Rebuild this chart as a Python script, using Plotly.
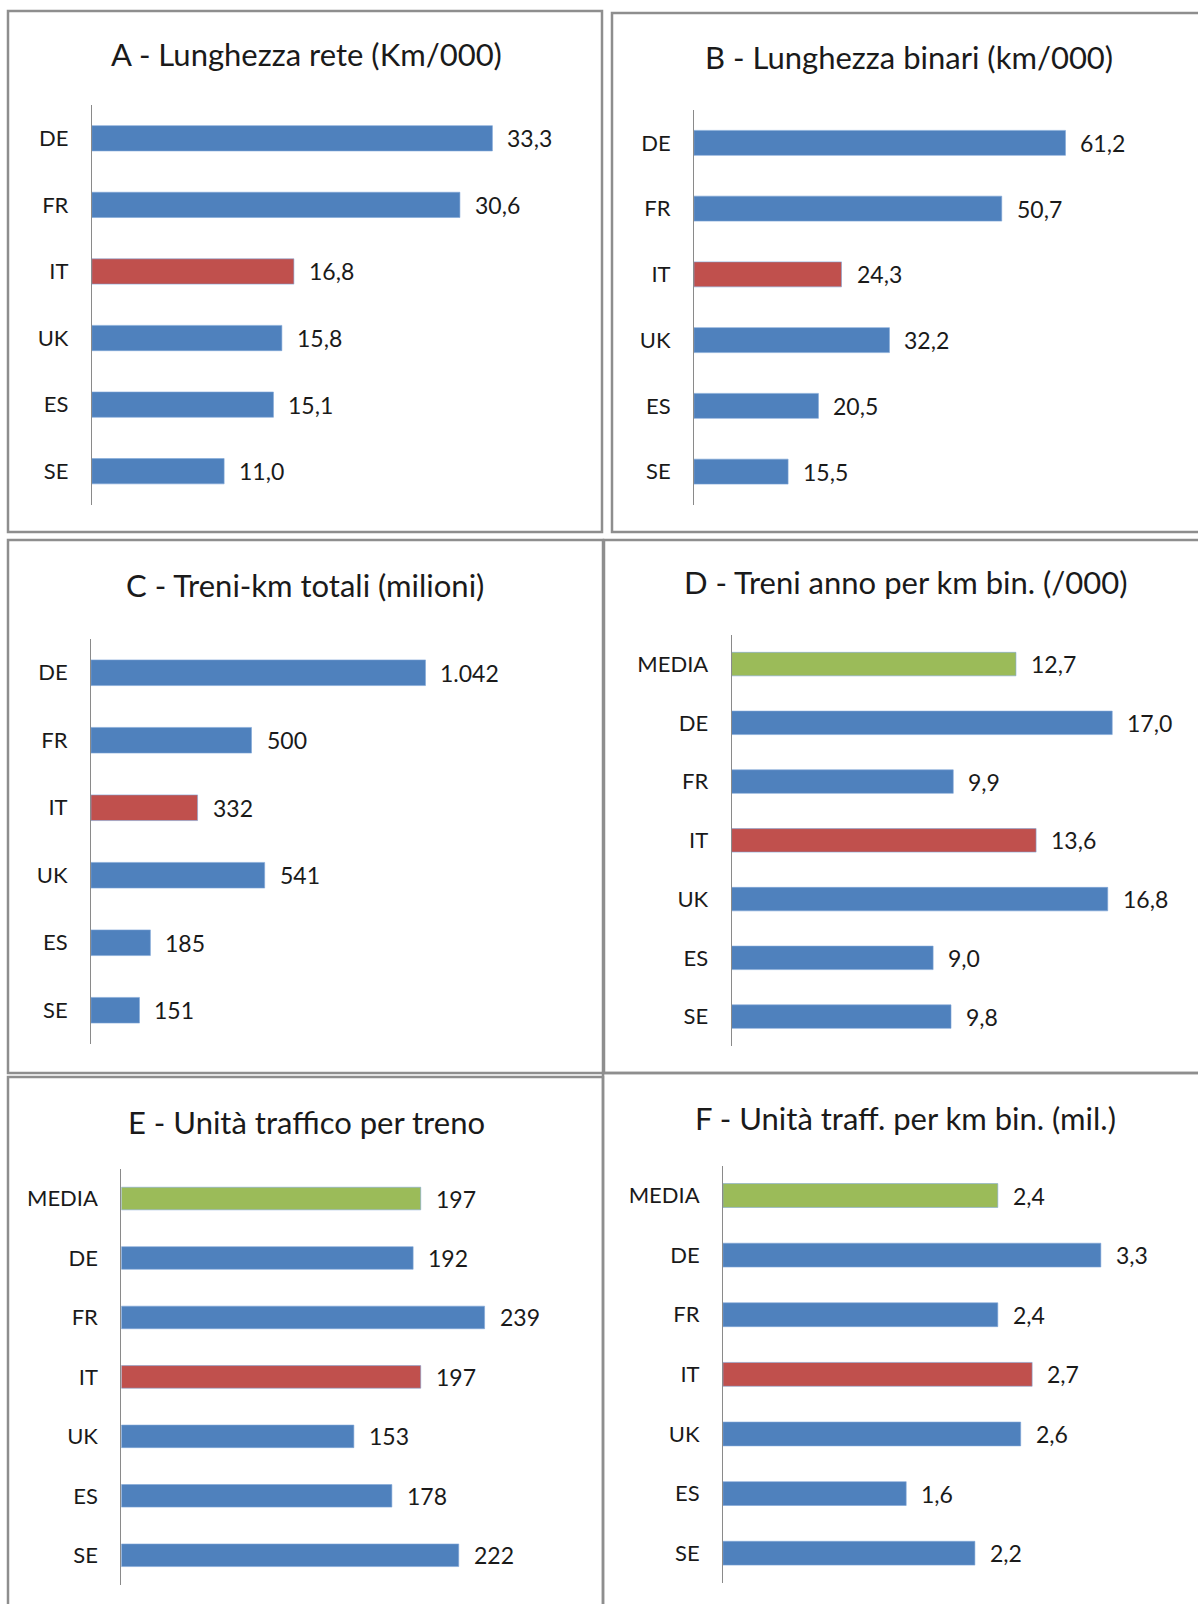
import plotly.graph_objects as go

# ---------------- DATA ----------------
cats_ab = ["DE", "FR", "IT", "UK", "ES", "SE"]
cats_df = ["MEDIA", "DE", "FR", "IT", "UK", "ES", "SE"]

lunghezza_rete = [33.3, 30.6, 16.8, 15.8, 15.1, 11.0]
lunghezza_binari = [61.2, 50.7, 24.3, 32.2, 20.5, 15.5]
treni_km_totali = [1042, 500, 332, 541, 185, 151]
treni_anno_km_bin = [12.7, 17.0, 9.9, 13.6, 16.8, 9.0, 9.8]
unita_traffico_treno = [197, 192, 239, 197, 153, 178, 222]
unita_traff_km_bin = [2.4, 3.3, 2.4, 2.7, 2.6, 1.6, 2.2]

titles = [
    "A - Lunghezza rete (Km/000)",
    "B - Lunghezza binari (km/000)",
    "C - Treni-km totali (milioni)",
    "D - Treni anno per km bin. (/000)",
    "E - Unità traffico per treno",
    "F - Unità traff. per km bin. (mil.)",
]

# ---------------- STYLE / LAYOUT ----------------
W, H = 1198, 1604
BLUE, RED, GREEN = "#4F81BD", "#C0504D", "#9BBB59"
FONT = "Lato"
TXT = "#1a1a1a"


def px_x(v):
    return v / W


def px_y(v):
    return 1 - v / H


def fmt_dec(v):
    return f"{v:.1f}".replace(".", ",")


def fmt_int(v):
    return f"{v:,.0f}".replace(",", ".")


panels = [
    dict(cats=cats_ab, vals=lunghezza_rete, fmt=fmt_dec,
         xd=(91.8, 595), yd=(105, 504.5), scale=12.03, tpos=(306, 54), bw=0.38),
    dict(cats=cats_ab, vals=lunghezza_binari, fmt=fmt_dec,
         xd=(694, 1190), yd=(110, 504.5), scale=6.07, tpos=(909, 57), bw=0.38),
    dict(cats=cats_ab, vals=treni_km_totali, fmt=fmt_int,
         xd=(91, 595), yd=(639, 1044), scale=0.321, tpos=(305, 585), bw=0.38),
    dict(cats=cats_df, vals=treni_anno_km_bin, fmt=fmt_dec,
         xd=(731.6, 1190), yd=(634.7, 1046), scale=22.39, tpos=(906, 582), bw=0.40),
    dict(cats=cats_df, vals=unita_traffico_treno, fmt=fmt_int,
         xd=(121.3, 595), yd=(1168.8, 1585), scale=1.52, tpos=(306, 1122), bw=0.38),
    dict(cats=cats_df, vals=unita_traff_km_bin, fmt=fmt_dec,
         xd=(723, 1190), yd=(1165.7, 1583), scale=114.5, tpos=(905, 1118), bw=0.40),
]

fig = go.Figure()
annotations = []

for i, (p, title) in enumerate(zip(panels, titles)):
    n = i + 1
    xa = "x" if n == 1 else f"x{n}"
    ya = "y" if n == 1 else f"y{n}"
    colors = [GREEN if c == "MEDIA" else RED if c == "IT" else BLUE for c in p["cats"]]
    fig.add_trace(go.Bar(
        x=p["vals"], y=p["cats"], orientation="h",
        marker=dict(color=colors, line=dict(color="#7fa6d6", width=0.6)),
        width=p["bw"], xaxis=xa, yaxis=ya, hoverinfo="skip",
    ))
    xmax = (p["xd"][1] - p["xd"][0]) / p["scale"]
    xkey = "xaxis" if n == 1 else f"xaxis{n}"
    ykey = "yaxis" if n == 1 else f"yaxis{n}"
    fig.layout[xkey] = dict(
        domain=[px_x(p["xd"][0]), px_x(p["xd"][1])],
        range=[0, xmax], visible=False, anchor=ya, fixedrange=True,
    )
    fig.layout[ykey] = dict(
        domain=[px_y(p["yd"][1]), px_y(p["yd"][0])],
        anchor=xa, type="category", categoryorder="array", categoryarray=p["cats"],
        range=[len(p["cats"]) - 0.5, -0.5],
        showline=True, linecolor="#8a8a8a", linewidth=1,
        showgrid=False, zeroline=False, ticks="", ticklabelstandoff=18,
        tickfont=dict(family=FONT, size=22, color=TXT), fixedrange=True,
    )
    for c, v in zip(p["cats"], p["vals"]):
        annotations.append(dict(
            x=v, y=c, xref=xa, yref=ya, text=p["fmt"](v), showarrow=False,
            xanchor="left", yanchor="middle", xshift=13,
            font=dict(family=FONT, size=23, color=TXT),
        ))
    annotations.append(dict(
        x=px_x(p["tpos"][0]), y=px_y(p["tpos"][1]), xref="paper", yref="paper",
        text=title, showarrow=False, xanchor="center", yanchor="middle",
        font=dict(family=FONT, size=31, color=TXT),
    ))

borders = [
    (8, 11, 602, 532),
    (612, 13, 1215, 532),
    (8, 540, 603, 1073),
    (604, 540, 1215, 1073),
    (8, 1077, 603, 1620),
    (603, 1073, 1215, 1620),
]
shapes = [
    dict(type="rect", xref="paper", yref="paper",
         x0=px_x(x0), x1=px_x(x1), y0=px_y(y1), y1=px_y(y0),
         line=dict(color="#8e8e8e", width=2.5), fillcolor="rgba(0,0,0,0)", layer="above")
    for (x0, y0, x1, y1) in borders
]

fig.update_layout(
    width=W, height=H, margin=dict(l=0, r=0, t=0, b=0),
    paper_bgcolor="white", plot_bgcolor="white", showlegend=False,
    annotations=annotations, shapes=shapes,
    font=dict(family=FONT, color=TXT),
)

fig.write_html(
    "out.html",
    config={"displayModeBar": False},
    post_script="document.body.style.margin='0';document.body.style.overflow='hidden';",
)
